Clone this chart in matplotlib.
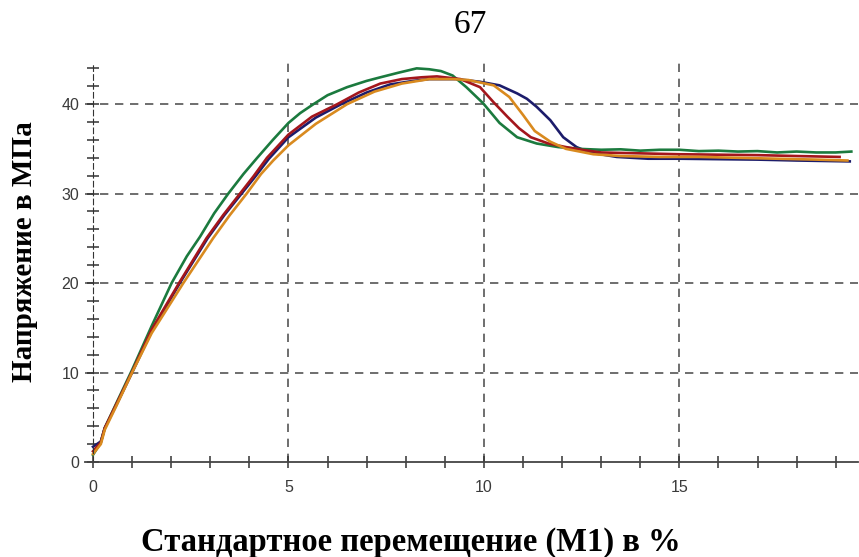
import numpy as np
import matplotlib.pyplot as plt
from matplotlib.ticker import MultipleLocator

# (strain %, stress MPa)
green_x = [0, 0.2, 0.3, 0.6, 1.0, 1.5, 2.01, 2.4, 2.74, 3.1, 3.46, 3.85, 4.2, 4.6, 5.0, 5.3,
           5.64, 6.0, 6.5, 7.0, 7.35, 7.8, 8.28, 8.6, 8.9, 9.2, 9.55, 9.98, 10.4, 10.85,
           11.35, 11.9, 12.45, 13.0, 13.5, 14.0, 14.5, 15.0, 15.5, 16.0, 16.5, 17.0, 17.5,
           18.0, 18.5, 19.0, 19.4]
green_y = [0.8, 2.2, 3.8, 6.6, 10.3, 15.2, 20.0, 23.0, 25.2, 27.8, 30.0, 32.2, 34.0, 36.0, 37.9, 39.0,
           40.0, 41.0, 41.9, 42.6, 43.0, 43.5, 44.0, 43.9, 43.7, 43.2, 41.9, 40.1, 37.9, 36.3,
           35.6, 35.2, 35.0, 34.9, 34.95, 34.8, 34.9, 34.9, 34.75, 34.8, 34.7, 34.75, 34.6,
           34.7, 34.6, 34.6, 34.7]

red_x = [0, 0.2, 0.3, 0.6, 1.0, 1.5, 2.2, 2.9, 3.33, 3.76, 4.1, 4.45, 5.0, 5.6, 6.25, 6.8,
         7.35, 7.9, 8.4, 8.8, 9.4, 9.9, 10.25, 10.6, 10.9, 11.2, 11.65, 12.1, 12.5, 13.0,
         14.0, 15.0, 16.0, 17.0, 18.0, 19.1]
red_y = [1.2, 2.2, 3.8, 6.5, 10.1, 14.8, 20.0, 25.0, 27.6, 30.0, 31.9, 34.0, 36.6, 38.6, 40.0, 41.3,
         42.3, 42.8, 43.0, 43.1, 42.8, 41.9, 40.2, 38.6, 37.3, 36.3, 35.6, 35.2, 34.9, 34.6,
         34.5, 34.4, 34.35, 34.3, 34.2, 34.1]

navy_x = [0, 0.2, 0.3, 0.6, 1.0, 1.5, 2.22, 2.93, 3.36, 3.8, 4.15, 4.5, 5.0, 5.7, 6.35, 7.0,
          7.6, 8.2, 8.6, 9.3, 9.9, 10.4, 10.85, 11.1, 11.35, 11.7, 12.03, 12.37, 12.7, 13.4,
          14.2, 15.0, 16.0, 17.0, 18.0, 19.36]
navy_y = [1.7, 2.3, 3.8, 6.4, 10.0, 14.6, 20.0, 25.0, 27.6, 30.0, 31.9, 33.9, 36.3, 38.5, 40.0, 41.3,
          42.2, 42.6, 42.8, 42.8, 42.5, 42.1, 41.2, 40.6, 39.7, 38.2, 36.3, 35.2, 34.6, 34.1,
          33.9, 33.9, 33.85, 33.8, 33.7, 33.6]

orange_x = [0, 0.2, 0.3, 0.6, 1.0, 1.5, 2.31, 3.07, 3.5, 3.93, 4.3, 4.61, 5.0, 5.7, 6.5, 7.2,
            7.9, 8.6, 9.2, 9.6, 10.25, 10.65, 11.0, 11.3, 11.7, 12.1, 12.8, 13.5, 14.5, 15.5,
            16.5, 17.5, 18.5, 19.3]
orange_y = [0.9, 2.0, 3.6, 6.3, 10.0, 14.4, 20.0, 25.0, 27.6, 30.0, 32.2, 33.7, 35.4, 37.8, 40.0, 41.4,
            42.3, 42.8, 42.8, 42.7, 42.1, 40.8, 38.8, 37.0, 35.8, 35.0, 34.4, 34.2, 34.1, 34.1,
            34.0, 33.9, 33.8, 33.7]

x_ticks = [0, 5, 10, 15]
y_ticks = [0, 10, 20, 30, 40]

fig = plt.figure(figsize=(8.59, 5.57), dpi=100, facecolor="white")
ax = fig.add_axes([0.0992, 0.1706, 0.8996, 0.7163])

ax.plot(navy_x, navy_y, c="#1c1c6b", lw=1.9)
ax.plot(green_x, green_y, c="#1b7a3e", lw=1.9)
ax.plot(red_x, red_y, c="#a3161c", lw=1.9)
ax.plot(orange_x, orange_y, c="#d98a1f", lw=1.9)

ax.set_xlim(-0.2, 19.57)
ax.set_ylim(0, 44.6)

ax.spines["top"].set_visible(False)
ax.spines["right"].set_visible(False)
ax.spines["left"].set_position(("data", 0))
ax.spines["left"].set_linestyle((0, (5, 3)))
ax.spines["left"].set_color("#333333")
ax.spines["bottom"].set_color("#444444")
ax.spines["bottom"].set_linewidth(1.3)

ax.set_xticks(x_ticks)
ax.set_yticks(y_ticks)
ax.xaxis.set_minor_locator(MultipleLocator(1))
ax.yaxis.set_minor_locator(MultipleLocator(2))
ax.tick_params(which="both", direction="inout", length=8, width=1.1, color="#333333")
ax.tick_params(axis="x", which="both", pad=9)
ax.tick_params(axis="y", which="both", pad=6)
for lab in ax.get_xticklabels() + ax.get_yticklabels():
    lab.set_family("Liberation Sans")
    lab.set_fontsize(11.5)
    lab.set_color("#3a3a3a")

for v in x_ticks[1:]:
    ax.axvline(v, color="#555555", lw=1.2, ls=(0, (5, 4)), zorder=0)
for v in y_ticks[1:]:
    ax.axhline(v, color="#555555", lw=1.2, ls=(0, (5, 4)), zorder=0)

fig.text(470/859, 1 - 25/557, "67", ha="center", va="center", fontsize=24,
         family="Liberation Serif")
fig.text(25/859, 1 - 252/557, "Напряжение в МПа", rotation=90, ha="center", va="center",
         fontsize=21, fontweight="bold", family="Liberation Serif")
fig.text(411/859, 1 - 542/557, "Стандартное перемещение (М1) в %", ha="center", va="center",
         fontsize=23.5, fontweight="bold", family="Liberation Serif")

plt.savefig("out.png", dpi=100, facecolor="white")
